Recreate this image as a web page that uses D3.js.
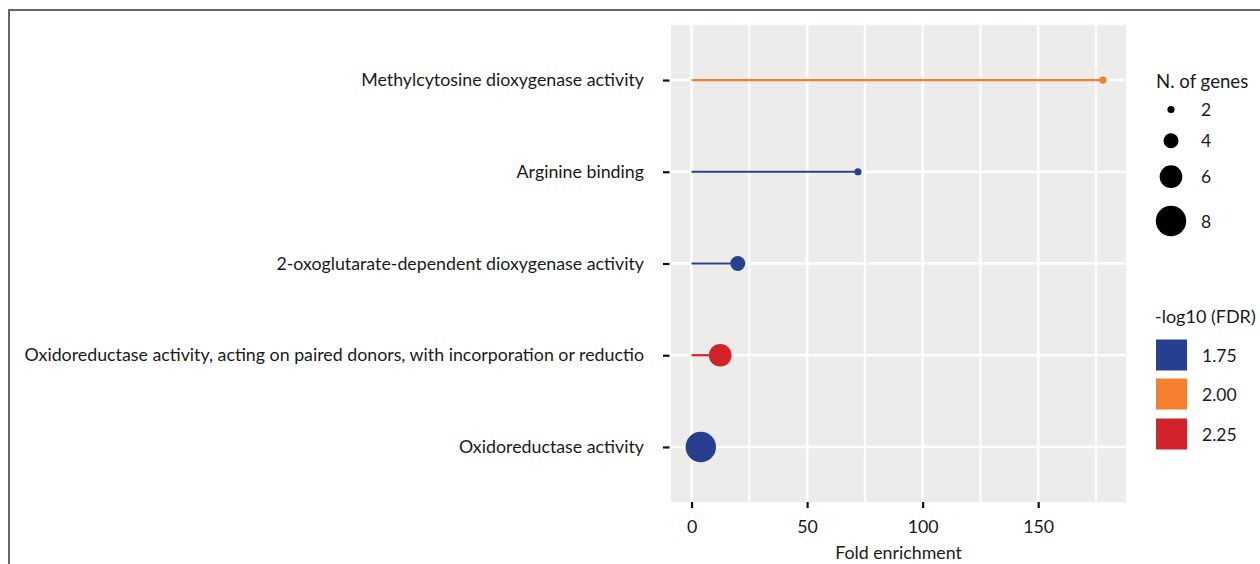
<!DOCTYPE html>
<html>
<head>
<meta charset="utf-8">
<script src="https://cdn.jsdelivr.net/npm/d3@7"></script>
<style>
  body { margin: 0; background: #fff; }
  text { font-family: Lato, "Open Sans", sans-serif; fill: #1a1a1a; }
</style>
</head>
<body>
<div id="chart"></div>
<script>
// Sizes
const width = 1260;
const height = 564;

const margin = { top: 25, right: 134, bottom: 62, left: 671 };

// Data (top to bottom)
const terms = [
  "Methylcytosine dioxygenase activity",
  "Arginine binding",
  "2-oxoglutarate-dependent dioxygenase activity",
  "Oxidoreductase activity, acting on paired donors, with incorporation or reductio",
  "Oxidoreductase activity"
];
const foldEnrichment = [178, 72, 20, 12.4, 4];
const nGenes = [2, 2, 4, 6, 8];
const fdrLevel = ["2.00", "1.75", "1.75", "2.25", "1.75"];

const sizeBreaks = [2, 4, 6, 8];
const fdrLevels = ["1.75", "2.00", "2.25"];
const fdrColors = ["#263f8e", "#f47f2e", "#d2232a"];
const xTicks = [0, 50, 100, 150];

const data = terms.map((t, i) => ({
  term: t, fe: foldEnrichment[i], n: nGenes[i], fdr: fdrLevel[i]
}));

const svg = d3.select("#chart")
  .append("svg")
  .attr("width", width)
  .attr("height", height);

// outer frame
svg.append("path")
  .attr("d", `M9,${height} V10 H${width}`)
  .attr("fill", "none")
  .attr("stroke", "#666")
  .attr("stroke-width", 2);

const x0 = margin.left, x1 = width - margin.right;
const y0 = margin.top, y1 = height - margin.bottom;

// Scales
const x = d3.scaleLinear()
  .domain([-8.9, 188])
  .range([x0, x1]);

const y = d3.scalePoint()
  .domain(terms)
  .range([y0, y1])
  .padding(0.6);

const r = d3.scaleLinear()
  .domain([2, 8])
  .range([3.6, 15.2]);

const color = d3.scaleOrdinal()
  .domain(fdrLevels)
  .range(fdrColors);

// Panel
svg.append("rect")
  .attr("x", x0).attr("y", y0)
  .attr("width", x1 - x0).attr("height", y1 - y0)
  .attr("fill", "#edeceb");

const grid = svg.append("g").attr("stroke", "#fff");
grid.selectAll(".minor")
  .data([25, 75, 125, 175])
  .join("line")
  .attr("x1", d => x(d)).attr("x2", d => x(d))
  .attr("y1", y0).attr("y2", y1)
  .attr("stroke-width", 2);
grid.selectAll(".major")
  .data(xTicks)
  .join("line")
  .attr("x1", d => x(d)).attr("x2", d => x(d))
  .attr("y1", y0).attr("y2", y1)
  .attr("stroke-width", 2.6);
grid.selectAll(".hmajor")
  .data(terms)
  .join("line")
  .attr("x1", x0).attr("x2", x1)
  .attr("y1", d => y(d)).attr("y2", d => y(d))
  .attr("stroke-width", 2.6);

// Lollipops
svg.selectAll(".stick")
  .data(data)
  .join("line")
  .attr("class", "stick")
  .attr("x1", x(0)).attr("x2", d => x(d.fe))
  .attr("y1", d => y(d.term)).attr("y2", d => y(d.term))
  .attr("stroke", d => color(d.fdr))
  .attr("stroke-width", 2.2);

svg.selectAll(".dot")
  .data(data)
  .join("circle")
  .attr("class", "dot")
  .attr("cx", d => x(d.fe))
  .attr("cy", d => y(d.term))
  .attr("r", d => r(d.n))
  .attr("fill", d => color(d.fdr));

// Axes
const yAxis = svg.append("g")
  .attr("transform", `translate(${x0},0)`)
  .call(d3.axisLeft(y).tickSize(8).tickPadding(19));
yAxis.select(".domain").remove();
yAxis.selectAll(".tick line")
  .attr("x1", -1.5).attr("x2", -8)
  .attr("stroke", "#111").attr("stroke-width", 2.2);
yAxis.selectAll(".tick text")
  .attr("font-size", 17.8)
  .attr("font-family", "Lato, sans-serif")
  .attr("fill", "#1a1a1a");

const xAxis = svg.append("g")
  .attr("transform", `translate(0,${y1})`)
  .call(d3.axisBottom(x).tickValues(xTicks).tickSize(6).tickPadding(12));
xAxis.select(".domain").remove();
xAxis.selectAll(".tick line")
  .attr("stroke", "#111").attr("stroke-width", 2.2);
xAxis.selectAll(".tick text")
  .attr("font-size", 17.8)
  .attr("font-family", "Lato, sans-serif")
  .attr("fill", "#1a1a1a");

svg.append("text")
  .attr("x", (x0 + x1) / 2)
  .attr("y", 559)
  .attr("text-anchor", "middle")
  .attr("font-size", 17.8)
  .text("Fold enrichment");

// Legend: size
const lg = svg.append("g");
lg.append("text")
  .attr("x", 1156).attr("y", 88)
  .attr("font-size", 18.6)
  .text("N. of genes");

const sizeY = [109.5, 140.7, 176.7, 221];
lg.selectAll(".skey")
  .data(sizeBreaks)
  .join("circle")
  .attr("cx", 1171)
  .attr("cy", (d, i) => sizeY[i])
  .attr("r", d => r(d))
  .attr("fill", "#000");
lg.selectAll(".slab")
  .data(sizeBreaks)
  .join("text")
  .attr("x", 1201)
  .attr("y", (d, i) => sizeY[i] + 6.5)
  .attr("font-size", 17.5)
  .text(d => d);

// Legend: colour
lg.append("text")
  .attr("x", 1155).attr("y", 323)
  .attr("font-size", 18)
  .text("-log10 (FDR)");

const keyY = [339.5, 378.5, 418.5];
lg.selectAll(".ckey")
  .data(fdrLevels)
  .join("rect")
  .attr("x", 1156)
  .attr("y", (d, i) => keyY[i])
  .attr("width", 31).attr("height", 31)
  .attr("fill", d => color(d));
lg.selectAll(".clab")
  .data(fdrLevels)
  .join("text")
  .attr("x", 1202)
  .attr("y", (d, i) => keyY[i] + 22)
  .attr("font-size", 17.5)
  .text(d => d);
</script>
</body>
</html>
